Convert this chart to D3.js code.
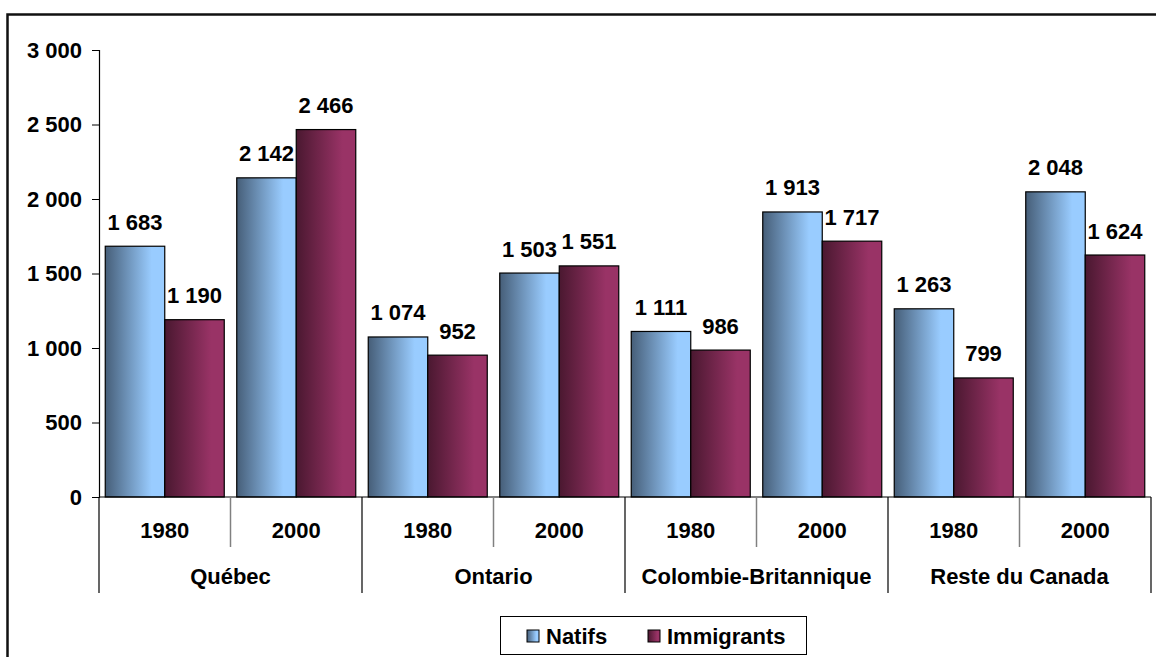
<!DOCTYPE html>
<html>
<head>
<meta charset="utf-8">
<script src="https://cdn.jsdelivr.net/npm/d3@7"></script>
<style>
  body { margin: 0; background: #fff; }
  text { font-family: "Liberation Sans", Arial, sans-serif; font-weight: bold; fill: #000; }
</style>
</head>
<body>
<svg width="1156" height="657"></svg>
<script>
const regions = ["Québec", "Ontario", "Colombie-Britannique", "Reste du Canada"];
const years = ["1980", "2000"];
const seriesNames = ["Natifs", "Immigrants"];
// values in order: region x year
const natifs = [1683, 2142, 1074, 1503, 1111, 1913, 1263, 2048];
const immigrants = [1190, 2466, 952, 1551, 986, 1717, 799, 1624];
const yTicks = [0, 500, 1000, 1500, 2000, 2500, 3000];

const rows = [];
regions.forEach((r, i) => years.forEach((y, j) => {
  const k = i * years.length + j;
  rows.push({ region: r, year: y, Natifs: natifs[k], Immigrants: immigrants[k] });
}));

const svg = d3.select("svg");
const fr = d3.formatLocale({ decimal: ",", thousands: " ", grouping: [3], currency: ["", ""] });
const fmt = fr.format(",d");
const fs = 22;

const plotL = 99, plotR = 1151, plotT = 50, base = 497;

// outer frame
svg.append("rect")
    .attr("x", 7.5).attr("y", 14.5)
    .attr("width", 1200).attr("height", 700)
    .attr("fill", "none").attr("stroke", "#111").attr("stroke-width", 2.5);

// gradients
const defs = svg.append("defs");
const grads = { Natifs: ["#465e78", "#99ccff"], Immigrants: ["#4a1830", "#993366"] };
Object.entries(grads).forEach(([k, c]) => {
  const g = defs.append("linearGradient").attr("id", "g-" + k)
      .attr("x1", 0).attr("x2", 1).attr("y1", 0).attr("y2", 0);
  g.append("stop").attr("offset", "0%").attr("stop-color", c[0]);
  g.append("stop").attr("offset", "78%").attr("stop-color", c[1]);
  g.append("stop").attr("offset", "100%").attr("stop-color", c[1]);
});

const x0 = d3.scaleBand().domain(regions).range([plotL, plotR]);
const x1 = d3.scaleBand().domain(years).range([0, x0.bandwidth()]);
const xs = d3.scaleBand().domain(seriesNames).range([0, x1.bandwidth()]).paddingOuter(0.105);
const y = d3.scaleLinear().domain([0, 3000]).range([base, plotT]);

// y axis
const yAxis = svg.append("g")
    .attr("transform", `translate(${plotL},0)`)
    .call(d3.axisLeft(y).tickValues(yTicks).tickFormat(fmt).tickSize(7).tickPadding(10));
yAxis.select(".domain").attr("stroke", "#000").attr("stroke-width", 1.2);
yAxis.selectAll(".tick line").attr("stroke", "#000");
yAxis.selectAll("text").attr("font-size", fs).attr("font-family", null).attr("fill", null);

// bars
const bars = svg.append("g");
rows.forEach(d => {
  const gx = x0(d.region) + x1(d.year);
  seriesNames.forEach(s => {
    bars.append("rect")
        .attr("x", gx + xs(s))
        .attr("y", y(d[s]))
        .attr("width", xs.bandwidth())
        .attr("height", base - y(d[s]))
        .attr("fill", `url(#g-${s})`)
        .attr("stroke", "#000").attr("stroke-width", 1.2);
    bars.append("text")
        .attr("x", gx + xs(s) + xs.bandwidth() / 2)
        .attr("y", y(d[s]) - 16.5)
        .attr("text-anchor", "middle")
        .attr("font-size", fs)
        .text(fmt(d[s]));
  });
});

// x axis line
svg.append("line")
    .attr("x1", plotL).attr("x2", plotR).attr("y1", base).attr("y2", base)
    .attr("stroke", "#000").attr("stroke-width", 1.2);

// year separators and labels
regions.forEach(r => {
  years.forEach((yr, j) => {
    svg.append("text")
        .attr("x", x0(r) + x1(yr) + x1.bandwidth() / 2)
        .attr("y", 538)
        .attr("text-anchor", "middle")
        .attr("font-size", fs)
        .text(yr);
    if (j > 0) {
      svg.append("line")
          .attr("x1", x0(r) + x1(yr)).attr("x2", x0(r) + x1(yr))
          .attr("y1", base).attr("y2", 547)
          .attr("stroke", "#808080").attr("stroke-width", 1.5);
    }
  });
  svg.append("text")
      .attr("x", x0(r) + x0.bandwidth() / 2)
      .attr("y", 584)
      .attr("text-anchor", "middle")
      .attr("font-size", fs)
      .text(r);
});
// region separators
regions.concat([null]).forEach(r => {
  const xx = r ? x0(r) : plotR;
  svg.append("line")
      .attr("x1", xx).attr("x2", xx)
      .attr("y1", base).attr("y2", 593)
      .attr("stroke", "#000").attr("stroke-width", 1.2);
});

// legend
const lg = svg.append("g");
lg.append("rect")
    .attr("x", 500.5).attr("y", 616.5).attr("width", 306).attr("height", 38)
    .attr("fill", "#fff").attr("stroke", "#000").attr("stroke-width", 1);
const legendPos = [{ s: "Natifs", x: 527 }, { s: "Immigrants", x: 648 }];
legendPos.forEach(p => {
  lg.append("rect")
      .attr("x", p.x).attr("y", 630).attr("width", 12).attr("height", 12)
      .attr("fill", `url(#g-${p.s})`).attr("stroke", "#000").attr("stroke-width", 1);
  lg.append("text")
      .attr("x", p.x + 19).attr("y", 643.5)
      .attr("font-size", fs)
      .text(p.s);
});
</script>
</body>
</html>
